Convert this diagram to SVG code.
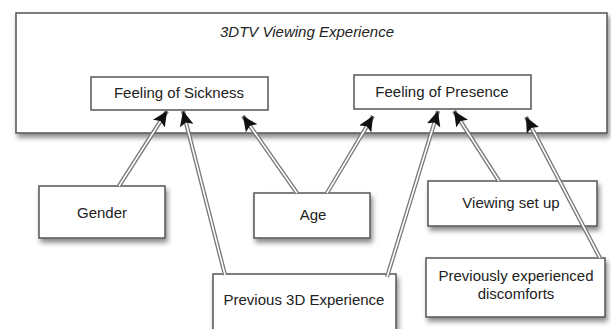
<svg xmlns="http://www.w3.org/2000/svg" width="611" height="329" viewBox="0 0 611 329">
<defs>
<filter id="sh" x="-10%" y="-20%" width="130%" height="160%">
<feDropShadow dx="2" dy="4" stdDeviation="2.5" flood-color="#000" flood-opacity="0.45"/>
</filter>
<marker id="ah" markerUnits="userSpaceOnUse" markerWidth="16" markerHeight="14" viewBox="0 0 16 14" refX="15" refY="7" orient="auto">
<path d="M0,0 L15,7 L0,14 L3,7 z" fill="#111"/>
</marker>
<style>
.box{fill:#fff;stroke:#555;stroke-width:1.5;filter:url(#sh)}
.t{font-family:"Liberation Sans",Arial,sans-serif;font-size:15px;fill:#222;text-anchor:middle}
.ti{font-style:italic}
.o{fill:none;stroke:#777;stroke-width:4.2}
.i{fill:none;stroke:#fff;stroke-width:1.6}
.h{fill:none;stroke:none;marker-end:url(#ah)}
</style>
</defs>
<rect width="611" height="329" fill="#fff"/>
<g id="experience">
<rect class="box" x="16" y="13" width="591" height="120"/>
<text class="t ti" x="307" y="37">3DTV Viewing Experience</text>
</g>
<g id="sickness">
<rect class="box" x="91" y="77" width="177" height="33" style="filter:none"/>
<text class="t" x="179" y="98">Feeling of Sickness</text>
</g>
<g id="presence">
<rect class="box" x="354" y="75" width="177" height="34" style="filter:none"/>
<text class="t" x="442" y="97">Feeling of Presence</text>
</g>
<g id="gender">
<rect class="box" x="39" y="186" width="126" height="52"/>
<text class="t" x="102" y="218">Gender</text>
</g>
<g id="age">
<rect class="box" x="254" y="193" width="116" height="45"/>
<text class="t" x="313" y="220">Age</text>
</g>
<g id="viewing">
<rect class="box" x="428" y="181" width="169" height="45"/>
<text class="t" x="511" y="208">Viewing set up</text>
</g>
<g id="prev3d">
<rect class="box" x="213" y="274" width="183" height="70"/>
<text class="t" x="304" y="305">Previous 3D Experience</text>
</g>
<g id="discomforts">
<rect class="box" x="426" y="258" width="179" height="59"/>
<text class="t" x="516" y="281">Previously experienced</text>
<text class="t" x="516" y="299">discomforts</text>
</g>
<g id="connectors">
<path class="o" d="M119,186 L167,111"/><path class="i" d="M119,186 L160.5,121.1"/><path class="h" d="M119,186 L167,111"/>
<path class="o" d="M225,275 L183,111"/><path class="i" d="M225,275 L186,122.6"/><path class="h" d="M225,275 L183,111"/>
<path class="o" d="M297,193 L243,116"/><path class="i" d="M297,193 L249.9,125.8"/><path class="h" d="M297,193 L243,116"/>
<path class="o" d="M327,193 L373,116"/><path class="i" d="M327,193 L366.8,126.3"/><path class="h" d="M327,193 L373,116"/>
<path class="o" d="M387,277 L438,111"/><path class="i" d="M387,277 L434.5,122.5"/><path class="h" d="M387,277 L438,111"/>
<path class="o" d="M499,181 L454,111"/><path class="i" d="M499,181 L460.5,121.1"/><path class="h" d="M499,181 L454,111"/>
<path class="o" d="M600,258 L526,117"/><path class="i" d="M600,258 L531.6,127.6"/><path class="h" d="M600,258 L526,117"/>
</g>
</svg>
